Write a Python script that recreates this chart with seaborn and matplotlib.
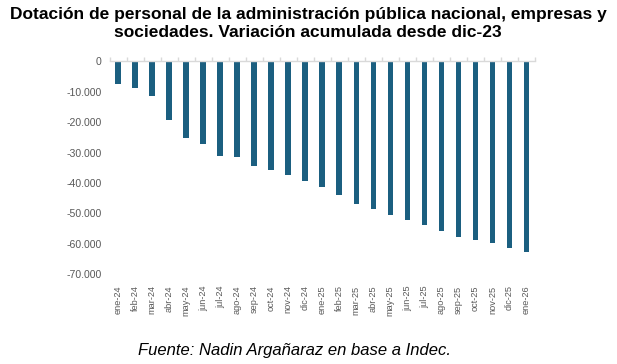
import matplotlib
matplotlib.use("Agg")
import matplotlib.pyplot as plt
import seaborn as sns
import pandas as pd
from matplotlib.ticker import FixedLocator, FuncFormatter

months = ["ene-24", "feb-24", "mar-24", "abr-24", "may-24", "jun-24", "jul-24",
          "ago-24", "sep-24", "oct-24", "nov-24", "dic-24", "ene-25", "feb-25",
          "mar-25", "abr-25", "may-25", "jun-25", "jul-25", "ago-25", "sep-25",
          "oct-25", "nov-25", "dic-25", "ene-26"]
variacion = [-7450, -8700, -11300, -19200, -25300, -27200, -31000,
             -31550, -34500, -35600, -37250, -39450, -41300, -43800,
             -47000, -48450, -50400, -52250, -53800, -55850, -57800,
             -58800, -59700, -61250, -62650]
yticks = [0, -10000, -20000, -30000, -40000, -50000, -60000, -70000]

df = pd.DataFrame({"mes": months, "valor": variacion})

sns.set_style("white")
plt.rcParams["font.family"] = ["Liberation Sans", "DejaVu Sans"]

fig = plt.figure(figsize=(6.17, 3.64), dpi=100)
ax = fig.add_axes([0.178, 0.2464, 0.689, 0.5852])

sns.barplot(data=df, x="mes", y="valor", color="#1b5f80", saturation=1,
            width=0.34, ax=ax, order=months, linewidth=0, edgecolor="none")

ax.set_ylim(-70000, 0)
ax.set_xlim(-0.5, len(months) - 0.5)
ax.yaxis.set_major_locator(FixedLocator(yticks))
ax.yaxis.set_major_formatter(FuncFormatter(lambda v, p: f"{int(round(v)):,}".replace(",", ".")))
ax.set_xlabel("")
ax.set_ylabel("")

for s in ["left", "right", "bottom"]:
    ax.spines[s].set_visible(False)
ax.spines["top"].set_visible(True)
ax.spines["top"].set_color("#d9d9d9")
ax.spines["top"].set_linewidth(1.0)

ax.set_xticks(range(len(months)))
ax.set_xticklabels(months, rotation=90)
ax.set_xticks([i - 0.5 for i in range(len(months) + 1)], minor=True)
ax.tick_params(axis="x", which="major", length=0, labelsize=6.6, colors="#595959", pad=8)
ax.tick_params(axis="x", which="minor", top=True, bottom=False, direction="out",
               length=3, color="#d9d9d9", width=1)
ax.tick_params(axis="y", length=0, labelsize=7.6, colors="#595959", pad=6)

fig.text(0.499, 0.981, "Dotación de personal de la administración pública nacional, empresas y\nsociedades. Variación acumulada desde dic-23",
         ha="center", va="top", fontsize=12.5, fontweight="bold", color="#000000",
         linespacing=1.22)
fig.text(0.477, 0.038, "Fuente: Nadin Argañaraz en base a Indec.", ha="center", va="center",
         fontsize=12, style="italic", color="#000000")

fig.savefig("out.png", dpi=100)
